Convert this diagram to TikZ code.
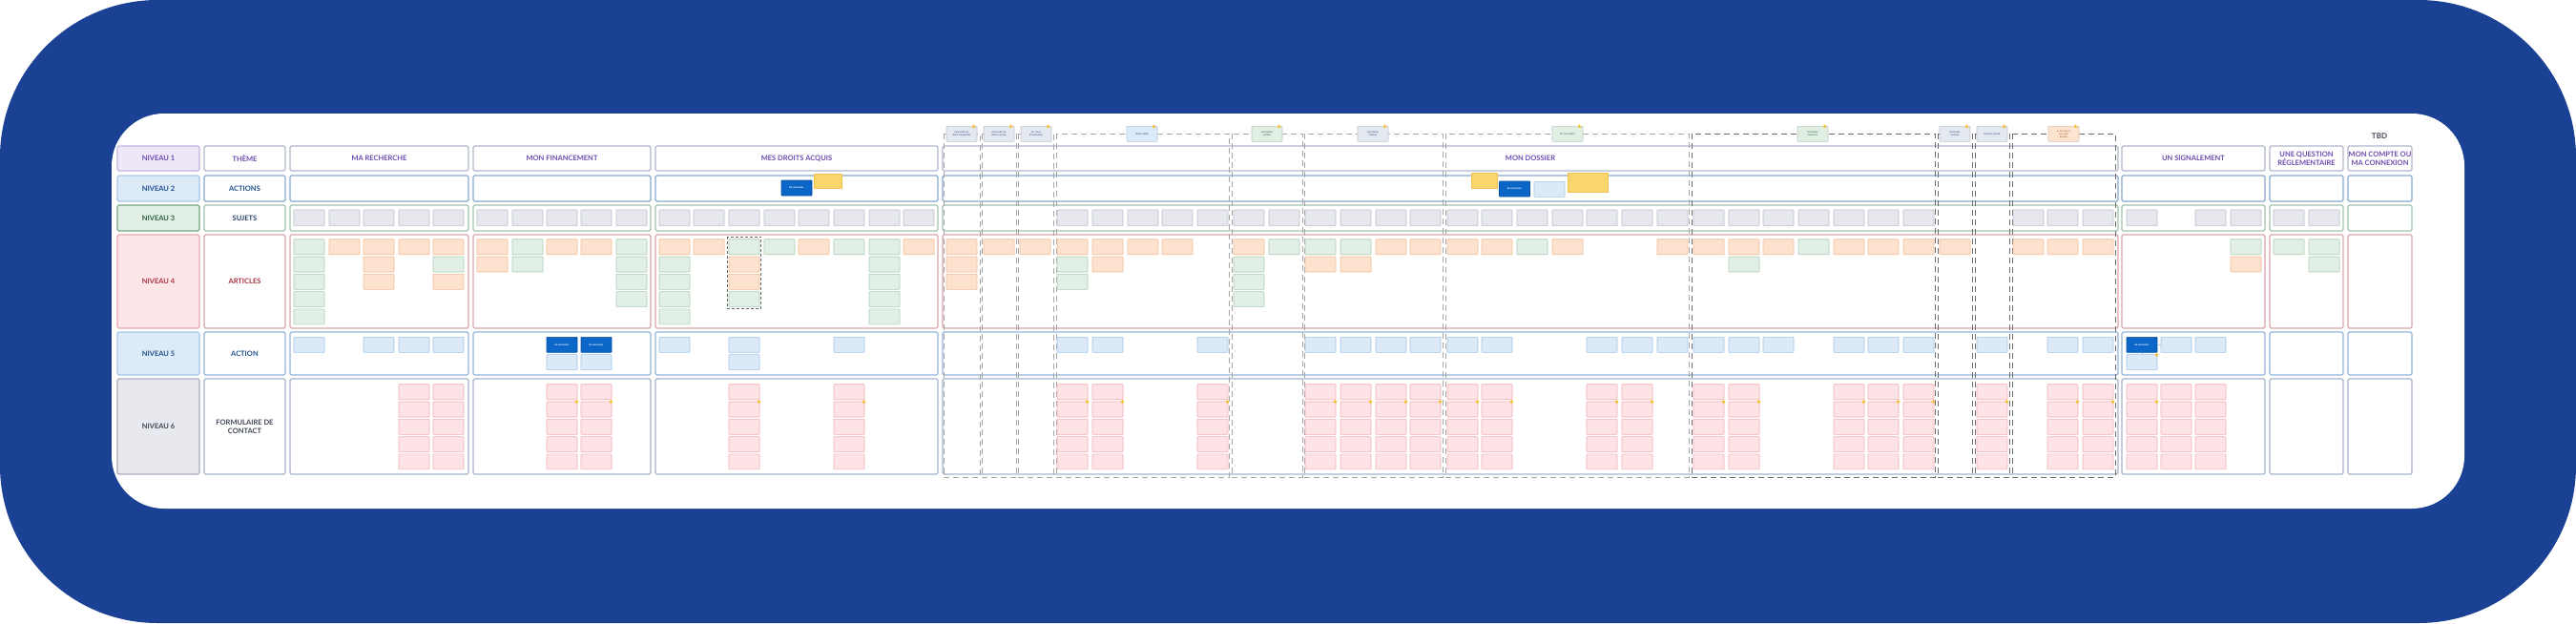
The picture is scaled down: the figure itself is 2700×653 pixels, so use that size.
\documentclass[tikz,border=0pt]{standalone}
\usepackage{fontspec}
\setmainfont{Lato}
\usetikzlibrary{shapes.geometric}

\definecolor{bgblue}{HTML}{1B4194}
\definecolor{headpurple}{HTML}{6A4BAE}
\definecolor{n1fill}{HTML}{EDE7F8}
\definecolor{n1line}{HTML}{C3B4E3}
\definecolor{n2fill}{HTML}{DDEBF8}
\definecolor{n2line}{HTML}{A9C9EA}
\definecolor{n2text}{HTML}{1E4F8A}
\definecolor{n3fill}{HTML}{E3F0E6}
\definecolor{n3line}{HTML}{76A584}
\definecolor{n3text}{HTML}{2B5C3B}
\definecolor{n4fill}{HTML}{FDE6E8}
\definecolor{n4line}{HTML}{E8AAB2}
\definecolor{n4text}{HTML}{A8323F}
\definecolor{n6fill}{HTML}{E8E9EE}
\definecolor{n6line}{HTML}{AAAEBA}
\definecolor{n6text}{HTML}{404656}
\definecolor{sujtext}{HTML}{27406A}
\definecolor{r1line}{HTML}{B3B8CC}
\definecolor{r2line}{HTML}{86AACF}
\definecolor{r3line}{HTML}{A4C4AE}
\definecolor{r4line}{HTML}{DBA5AA}
\definecolor{r5line}{HTML}{94B6D8}
\definecolor{r6line}{HTML}{A5B4CA}
\definecolor{sujfill}{HTML}{E6E8EE}
\definecolor{sujline}{HTML}{BCC0CC}
\definecolor{orfill}{HTML}{FDE3CF}
\definecolor{orline}{HTML}{F2BC95}
\definecolor{grfill}{HTML}{E2EFE6}
\definecolor{grline}{HTML}{AACDB5}
\definecolor{actfill}{HTML}{DCEAF8}
\definecolor{actline}{HTML}{9FC4E8}
\definecolor{btnblue}{HTML}{0B66C8}
\definecolor{pkfill}{HTML}{FDE3E5}
\definecolor{pkline}{HTML}{F2AEB5}
\definecolor{notefill}{HTML}{F9D66B}
\definecolor{noteline}{HTML}{EDC24F}
\definecolor{starfill}{HTML}{F5BF27}
\definecolor{grpline}{HTML}{A6A6A6}
\definecolor{grpdark}{HTML}{6E6E6E}
\definecolor{tagslate}{HTML}{E4E8F1}
\definecolor{tagblue}{HTML}{DBEAF8}
\definecolor{taggreen}{HTML}{E0EEE4}
\definecolor{tagorange}{HTML}{FDE4D0}
\definecolor{tagtext}{HTML}{2C4A7E}
\definecolor{taggrtext}{HTML}{2B5C3B}
\definecolor{tagortext}{HTML}{A0522D}

\tikzset{
  zonebox/.style={draw, line width=1.3pt, rounded corners=1.5pt, inner sep=0pt, align=center,
    font=\fontsize{7.5}{9.2}\selectfont\bfseries},
  card/.style={draw, line width=0.6pt, rounded corners=0.6pt, minimum width=32, minimum height=16, inner sep=0pt},
  sujet/.style={card, fill=sujfill, draw=sujline, minimum height=16.7},
  orart/.style={card, fill=orfill, draw=orline},
  grart/.style={card, fill=grfill, draw=grline},
  act/.style={card, fill=actfill, draw=actline},
  btn/.style={card, fill=btnblue, draw=btnblue!80!black, text=white, font=\fontsize{2.6}{3}\selectfont\bfseries},
  form/.style={card, fill=pkfill, draw=pkline},
  tagbox/.style={card, align=center, font=\fontsize{2.6}{3.1}\selectfont, text width=30pt},
  note/.style={draw=noteline, fill=notefill, line width=0.5pt, inner sep=0pt},
  starmk/.style={star, star points=5, star point ratio=2.3, fill=starfill, draw=none, minimum size=4.5, inner sep=0pt},
  grp/.style={draw=grpline, line width=0.8pt, dash pattern=on 6pt off 4pt},
  grpdk/.style={grp, draw=grpdark},
}

% big cells of the grid
\newcommand{\zone}[7]{\node[zonebox,#2,minimum width={#4-#3},minimum height={#6-#5}] (#1) at ({(#3+#4)/2},{(#5+#6)/2}) {#7};}
% small cards, by left edge and slot
\newcommand{\sujet}[1]{\node[sujet] (s#1) at (#1+16,228.3) {};}
\newcommand{\art}[3]{\node[#1] (a#2-#3) at (#2+16,258.7+18.3*#3) {};}
\newcommand{\act}[4][]{\node[#2] (b#3-#4) at (#3+16,361.3+18.3*#4) {#1};}
\newcommand{\forms}[1]{\foreach \k in {0,...,4} {\node[form] (f#1-\k) at (#1+16,410.7+18.3*\k) {};}}
\newcommand{\formsstar}[1]{\forms{#1}\node[starmk] (f#1-st) at (#1+31.5,421) {};}
\newcommand{\statut}[5]{\node[tagbox,fill=#3,draw=#3!85!black,text=#4] (t#1) at (#2+16,140.3) {#5};
  \node[starmk] (t#1-st) at (#2+28.5,132.5) {};}

\begin{document}
\begin{tikzpicture}[x=1pt, y=-1pt]
  \useasboundingbox (0,0) rectangle (2700,653);
  \fill[white] (0,0) rectangle (2700,653);
  \fill[bgblue, rounded corners=165pt] (0,0) rectangle (2700,653);
  \fill[white, rounded corners=55pt] (117,119) rectangle (2583,533);

  % levels
  \zone{n1}{fill=n1fill,draw=n1line,text=headpurple}{123}{209}{153}{179}{NIVEAU 1}
  \zone{n2}{fill=n2fill,draw=n2line,text=n2text}{123}{209}{184}{211}{NIVEAU 2}
  \zone{n3}{fill=n3fill,draw=n3line,text=n3text}{123}{209}{215}{242}{NIVEAU 3}
  \zone{n4}{fill=n4fill,draw=n4line,text=n4text}{123}{209}{246}{344}{NIVEAU 4}
  \zone{n5}{fill=n2fill,draw=n2line,text=n2text}{123}{209}{348}{393}{NIVEAU 5}
  \zone{n6}{fill=n6fill,draw=n6line,text=n6text}{123}{209}{397}{497}{NIVEAU 6}

  \zone{theme}{draw=r1line,text=headpurple}{214}{299}{153}{179}{THÈME}
  \zone{actions}{draw=r2line,text=n2text}{214}{299}{184}{211}{ACTIONS}
  \zone{sujets}{draw=r3line,text=sujtext}{214}{299}{215}{242}{SUJETS}
  \zone{articles}{draw=r4line,text=n4text}{214}{299}{246}{344}{ARTICLES}
  \zone{action}{draw=r5line,text=n2text}{214}{299}{348}{393}{ACTION}
  \zone{formulaire}{draw=r6line,text=n6text}{214}{299}{397}{497}{FORMULAIRE DE\\CONTACT}

  % themes
  \zone{rech}{draw=r1line,text=headpurple}{304}{491}{153}{179}{MA RECHERCHE}
  \zone{fin}{draw=r1line,text=headpurple}{496}{682}{153}{179}{MON FINANCEMENT}
  \zone{droits}{draw=r1line,text=headpurple}{687}{983}{153}{179}{MES DROITS ACQUIS}
  \zone{dossier}{draw=r1line,text=headpurple}{988}{2220}{153}{179}{MON DOSSIER}
  \zone{signal}{draw=r1line,text=headpurple}{2224}{2374}{153}{179}{UN SIGNALEMENT}
  \zone{question}{draw=r1line,text=headpurple}{2379}{2456}{153}{179}{UNE QUESTION\\RÉGLEMENTAIRE}
  \zone{compte}{draw=r1line,text=headpurple}{2461}{2528}{153}{179}{MON COMPTE OU\\MA CONNEXION}
  \node[font=\fontsize{8}{9}\selectfont\bfseries, text=n6text] (tbd) at (2494,143) {TBD};

  \foreach \nm/\xa/\xb in {rech/304/491,fin/496/682,droits/687/983,dossier/988/2220,signal/2224/2374,question/2379/2456,compte/2461/2528}{
    \zone{\nm-r2}{draw=r2line}{\xa}{\xb}{184}{211}{}
    \zone{\nm-r3}{draw=r3line}{\xa}{\xb}{215}{242}{}
    \zone{\nm-r4}{draw=r4line}{\xa}{\xb}{246}{344}{}
    \zone{\nm-r5}{draw=r5line}{\xa}{\xb}{348}{393}{}
    \zone{\nm-r6}{draw=r6line}{\xa}{\xb}{397}{497}{}
  }

  % status groups of mon dossier
  \foreach \xa/\xb in {989/1027,1029/1065,1067/1104,1107/1288,1291/1365,1367/1512,1515/1770}
    \draw[grp] (\xa,140) rectangle (\xb,500);
  \foreach \xa/\xb in {1773/2028,2031/2067,2070/2106,2109/2217}
    \draw[grpdk] (\xa,140) rectangle (\xb,500);

  \statut{1}{992}{tagslate}{tagtext}{Demande de\\droit enregistrée}
  \statut{2}{1031}{tagslate}{tagtext}{Demande de\\droits refusée}
  \statut{3}{1070}{tagslate}{tagtext}{En cours\\d'instruction}
  \statut{4}{1181}{tagblue}{tagtext}{Droit validé}
  \statut{5}{1312}{taggreen}{taggrtext}{Inscription\\validée}
  \statut{6}{1423}{tagslate}{tagtext}{Inscription\\refusée}
  \statut{7}{1627}{taggreen}{taggrtext}{En formation}
  \statut{8}{1884}{taggreen}{taggrtext}{Formation\\terminée}
  \statut{9}{2033}{tagslate}{tagtext}{Demande\\annulée}
  \statut{10}{2072}{tagslate}{tagtext}{Dossier annulé}
  \statut{11}{2147}{tagorange}{tagortext}{je ne trouve\\pas mon\\dossier}

  % ma recherche
  \foreach \x in {308,345,381,418,454} {\sujet{\x}}
  \foreach \k in {0,...,4} {\art{grart}{308}{\k}}
  \art{orart}{345}{0}
  \foreach \k in {0,1,2} {\art{orart}{381}{\k}}
  \art{orart}{418}{0}
  \art{orart}{454}{0} \art{grart}{454}{1} \art{orart}{454}{2}
  \foreach \x in {308,381,418,454} {\act{act}{\x}{0}}
  \forms{418} \forms{454}

  % mon financement
  \foreach \x in {500,537,573,609,646} {\sujet{\x}}
  \art{orart}{500}{0} \art{orart}{500}{1}
  \art{grart}{537}{0} \art{grart}{537}{1}
  \art{orart}{573}{0} \art{orart}{609}{0}
  \foreach \k in {0,...,3} {\art{grart}{646}{\k}}
  \act[Se connecter]{btn}{573}{0} \act{act}{573}{1}
  \act[Se connecter]{btn}{609}{0} \act{act}{609}{1}
  \formsstar{573} \formsstar{609}

  % mes droits acquis
  \node[btn] (cnx-droits) at (835,197) {Se connecter};
  \node[note, minimum width=28.5, minimum height=15.5] (note-droits) at (867.5,189.5) {};
  \foreach \x in {691,727,764,801,837,874,911,947} {\sujet{\x}}
  \art{orart}{691}{0}
  \foreach \k in {1,...,4} {\art{grart}{691}{\k}}
  \art{orart}{727}{0}
  \art{grart}{764}{0} \art{orart}{764}{1} \art{orart}{764}{2} \art{grart}{764}{3}
  \draw[densely dashed, black!60, line width=0.6pt] (762.5,248) rectangle (797.5,323.5);
  \art{grart}{801}{0} \art{orart}{837}{0} \art{grart}{874}{0}
  \foreach \k in {0,...,4} {\art{grart}{911}{\k}}
  \art{orart}{947}{0}
  \act{act}{691}{0} \act{act}{764}{0} \act{act}{764}{1} \act{act}{874}{0}
  \formsstar{764} \formsstar{874}

  % mon dossier
  \foreach \k in {0,1,2} {\art{orart}{992}{\k}}
  \art{orart}{1031}{0}
  \art{orart}{1069}{0}
  % droit valide
  \foreach \x in {1108,1145,1182,1218,1255} {\sujet{\x}}
  \art{orart}{1108}{0} \art{grart}{1108}{1} \art{grart}{1108}{2}
  \art{orart}{1145}{0} \art{orart}{1145}{1}
  \art{orart}{1182}{0} \art{orart}{1218}{0}
  \foreach \x in {1108,1145,1255} {\act{act}{\x}{0} \formsstar{\x}}
  % inscription validee
  \foreach \x in {1293,1330} {\sujet{\x}}
  \art{orart}{1293}{0}
  \foreach \k in {1,2,3} {\art{grart}{1293}{\k}}
  \art{grart}{1330}{0}
  % inscription refusee
  \foreach \x in {1368,1405,1442,1478} {\sujet{\x} \act{act}{\x}{0} \formsstar{\x}}
  \art{grart}{1368}{0} \art{orart}{1368}{1}
  \art{grart}{1405}{0} \art{orart}{1405}{1}
  \art{orart}{1442}{0} \art{orart}{1478}{0}
  % en formation
  \node[note, minimum width=27.5, minimum height=15.5] (note-doss1) at (1555.5,189) {};
  \node[btn] (cnx-doss) at (1587.5,198) {Se connecter};
  \node[act] (compte-doss) at (1624,198.3) {};
  \node[note, minimum width=42, minimum height=19.5] (note-doss2) at (1664,191) {};
  \foreach \x in {1517,1553,1590,1627,1663,1700,1737} {\sujet{\x}}
  \art{orart}{1517}{0} \art{orart}{1553}{0} \art{grart}{1590}{0}
  \art{orart}{1627}{0} \art{orart}{1737}{0}
  \foreach \x in {1517,1553,1663,1700,1737} {\act{act}{\x}{0}}
  \foreach \x in {1517,1553,1663,1700} {\formsstar{\x}}
  % formation terminee
  \foreach \x in {1775,1812,1848,1885,1922,1958,1995} {\sujet{\x}}
  \foreach \x in {1775,1812,1848,1922,1958,1995} {\art{orart}{\x}{0} \act{act}{\x}{0}}
  \art{grart}{1812}{1} \art{grart}{1885}{0}
  \foreach \x in {1775,1812,1922,1958,1995} {\formsstar{\x}}
  % annulations
  \art{orart}{2033}{0}
  \act{act}{2072}{0} \formsstar{2072}
  % dossier introuvable
  \foreach \x in {2110,2146,2183} {\sujet{\x} \art{orart}{\x}{0}}
  \foreach \x in {2146,2183} {\act{act}{\x}{0} \formsstar{\x}}

  % un signalement
  \foreach \x in {2229,2301,2338} {\sujet{\x}}
  \art{grart}{2338}{0} \art{orart}{2338}{1}
  \act[Se connecter]{btn}{2229}{0} \act{act}{2229}{1}
  \act{act}{2265}{0} \act{act}{2301}{0}
  \node[starmk] (b2229-st) at (2260.5,372) {};
  \draw[actline, line width=0.5pt] (b2229-0) -- (b2265-0);
  \draw[actline, line width=0.5pt] (b2229-0) -- (b2229-1);
  \formsstar{2229} \forms{2265} \forms{2301}

  % une question reglementaire
  \foreach \x in {2383,2420} {\sujet{\x}}
  \art{grart}{2383}{0} \art{grart}{2420}{0} \art{grart}{2420}{1}
\end{tikzpicture}
\end{document}
